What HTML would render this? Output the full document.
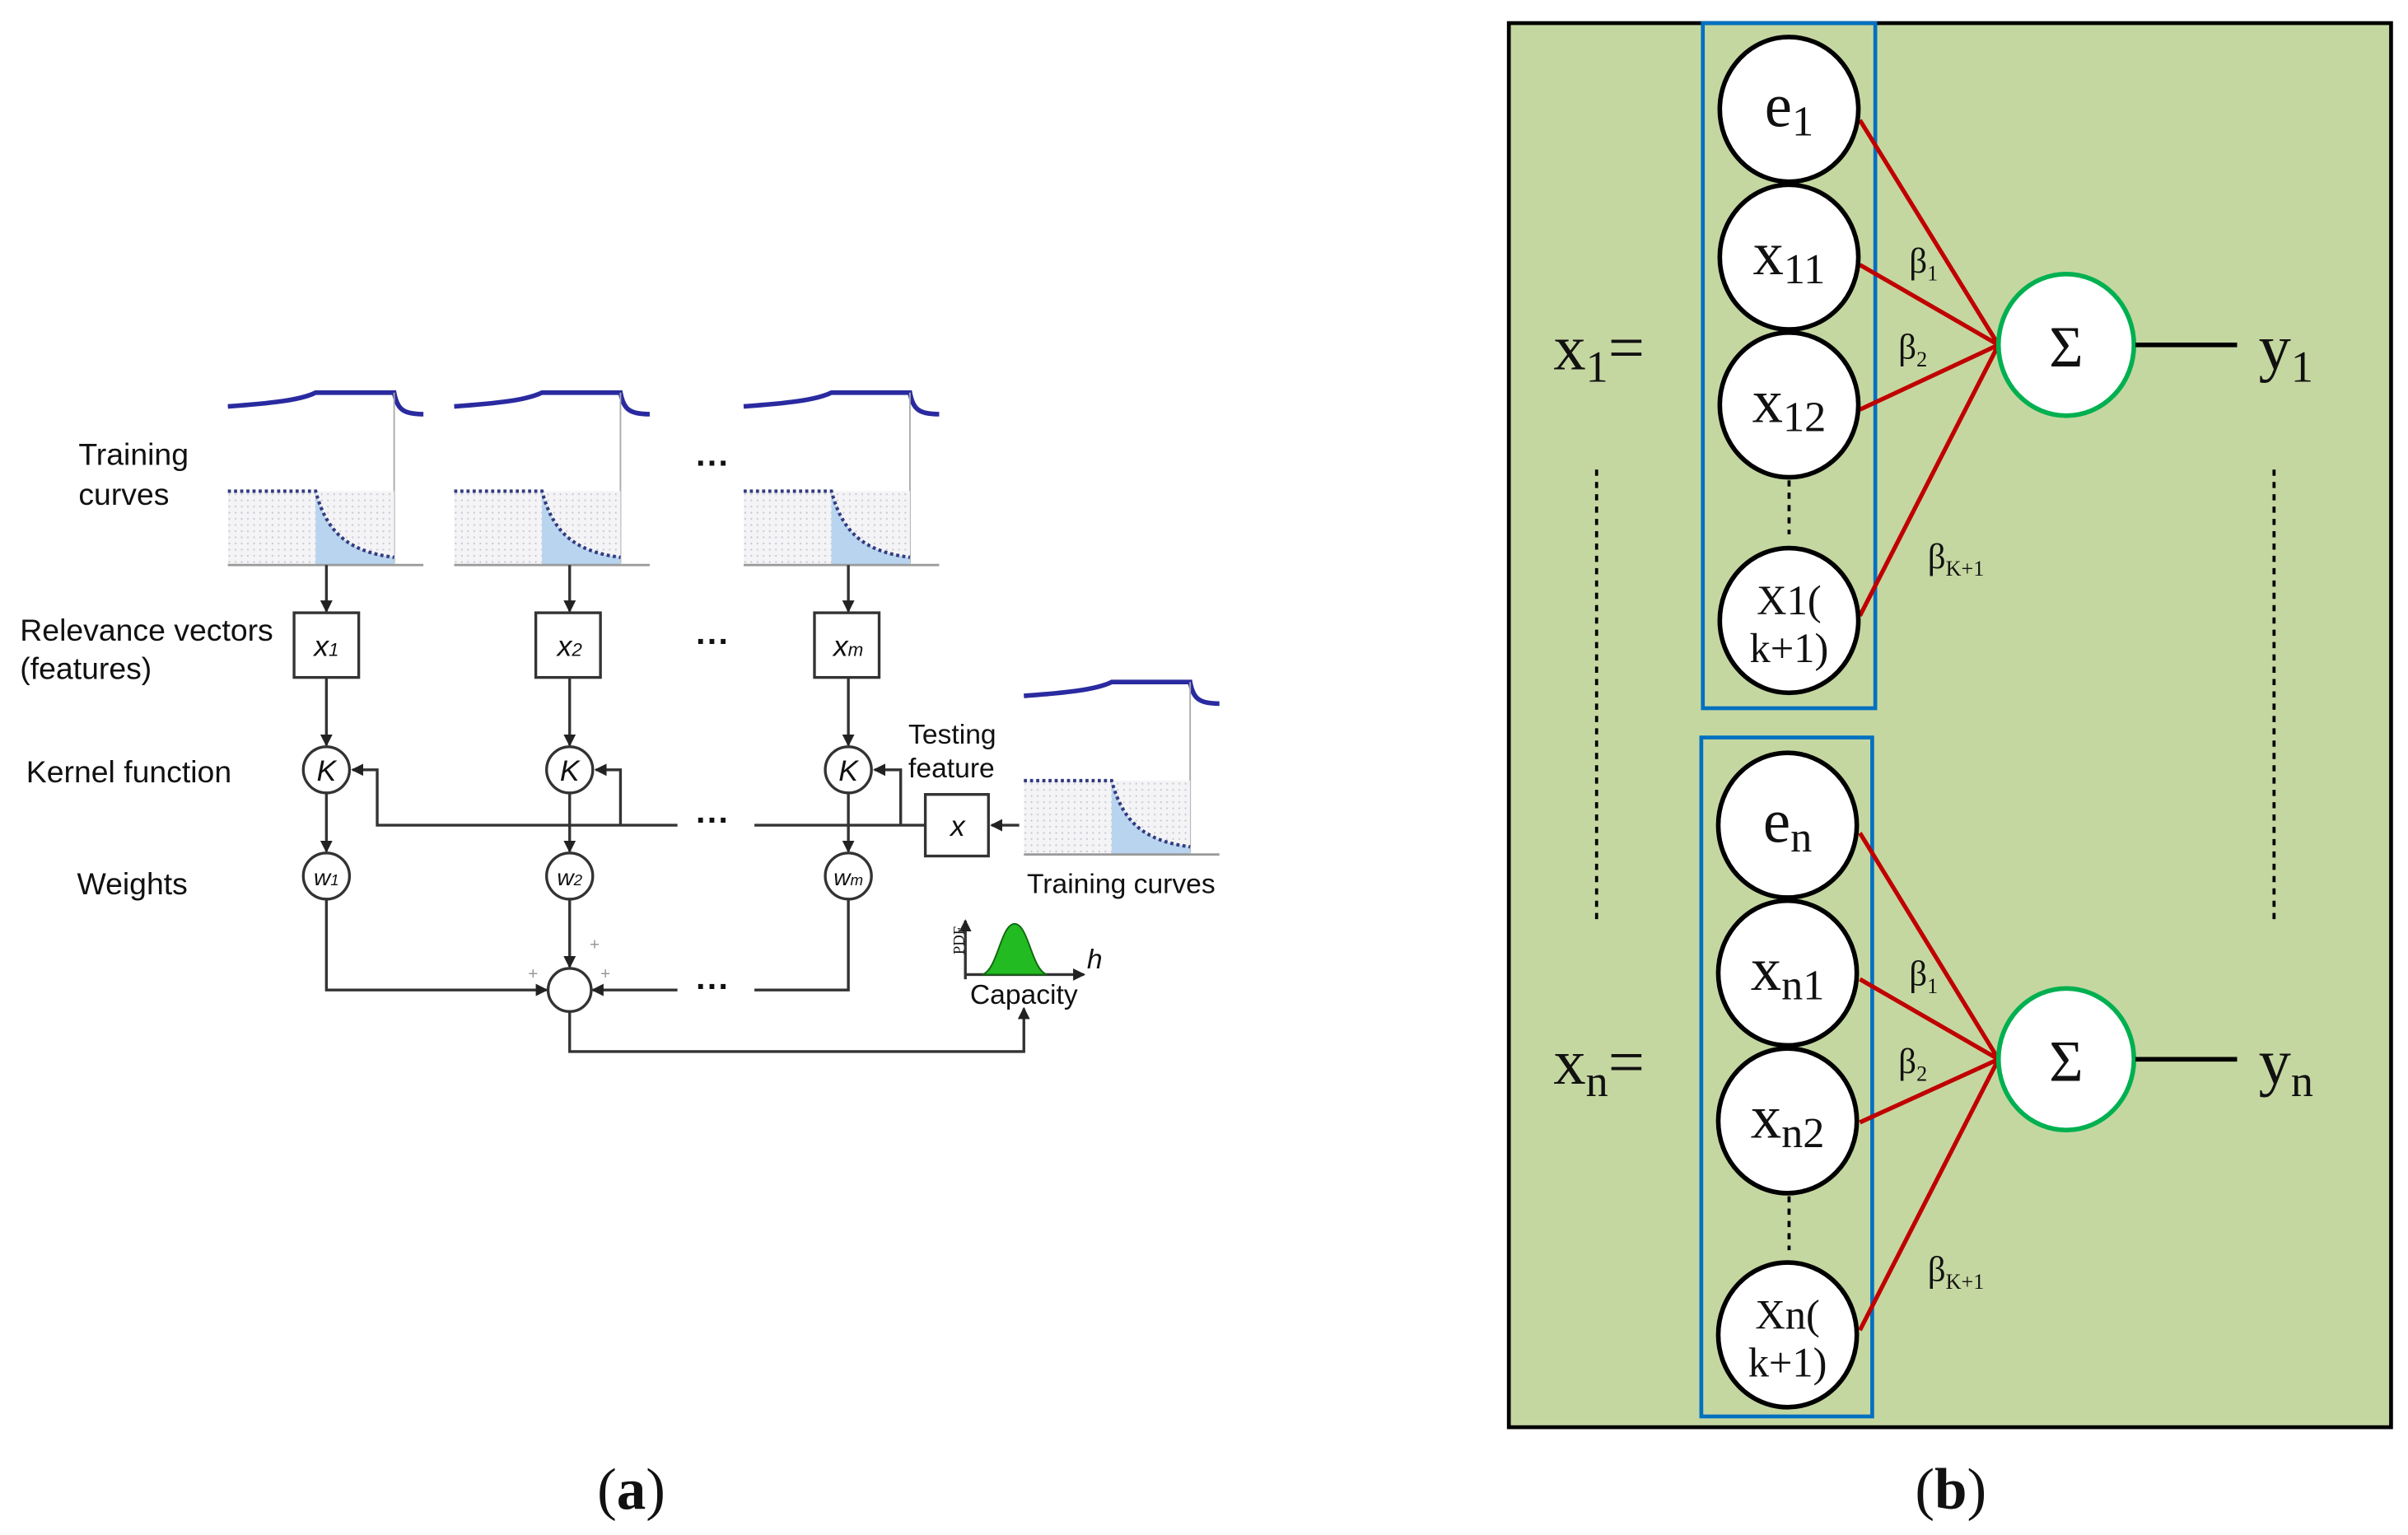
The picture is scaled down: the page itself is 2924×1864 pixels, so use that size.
<!DOCTYPE html>
<html><head><meta charset="utf-8"><style>html,body{margin:0;padding:0;background:#fff}svg{display:block}</style></head>
<body>
<svg width="2924" height="1864" viewBox="0 0 1564 997" xmlns="http://www.w3.org/2000/svg">
<defs>
<marker id="ar" markerWidth="8" markerHeight="8" refX="7" refY="4" orient="auto" markerUnits="userSpaceOnUse"><path d="M0,0 L8,4 L0,8 z" fill="#222"/></marker>
<pattern id="dots" width="4" height="4" patternUnits="userSpaceOnUse"><rect width="4" height="4" fill="#f4f4f6"/><circle cx="1" cy="1" r="0.6" fill="#c8c8d0"/></pattern>
</defs>
<g font-family="Liberation Sans, sans-serif" fill="#111">
<g id="c1">
<path d="M148,264 C175,262 195,260 205,255 L256,255 C258,266 262,269 275,269" fill="none" stroke="#2a2aa0" stroke-width="3"/>
<line x1="256" y1="255" x2="256" y2="366" stroke="#aaa" stroke-width="1"/>
<rect x="148" y="319" width="108" height="48" fill="url(#dots)"/>
<path d="M205,319 C212,345 225,358 256,362 L256,367 L205,367 z" fill="#b8d4ee"/>
<path d="M148,319 L205,319 C212,345 225,358 256,362" fill="none" stroke="#333a80" stroke-width="2.2" stroke-dasharray="2,2"/>
<line x1="148" y1="367" x2="275" y2="367" stroke="#999" stroke-width="1.5"/>
</g>
<use href="#c1" transform="translate(147,0)"/>
<use href="#c1" transform="translate(335,0)"/>
<use href="#c1" transform="translate(517,188)"/>
<text x="51" y="302" font-size="20">Training</text>
<text x="51" y="328" font-size="20">curves</text>
<text x="13" y="416" font-size="20">Relevance vectors</text>
<text x="13" y="441" font-size="20">(features)</text>
<text x="17" y="508" font-size="20">Kernel function</text>
<text x="50" y="581" font-size="20">Weights</text>
<text x="590" y="483" font-size="18">Testing</text>
<text x="590" y="505" font-size="18">feature</text>
<text x="667" y="580" font-size="18">Training curves</text>
<g font-size="22" font-weight="bold"><text x="452" y="308">···</text><text x="452" y="424">···</text><text x="452" y="540">···</text><text x="452" y="648">···</text></g>
<g stroke="#333" stroke-width="1.8" fill="none">
<line x1="212" y1="367" x2="212" y2="397" marker-end="url(#ar)"/>
<line x1="370" y1="367" x2="370" y2="397" marker-end="url(#ar)"/>
<line x1="551" y1="367" x2="551" y2="397" marker-end="url(#ar)"/>
<rect x="191" y="398" width="42" height="42" fill="#fff"/>
<rect x="348" y="398" width="42" height="42" fill="#fff"/>
<rect x="529" y="398" width="42" height="42" fill="#fff"/>
<line x1="212" y1="440" x2="212" y2="484" marker-end="url(#ar)"/>
<line x1="370" y1="440" x2="370" y2="484" marker-end="url(#ar)"/>
<line x1="551" y1="440" x2="551" y2="484" marker-end="url(#ar)"/>
<circle cx="212" cy="500" r="15" fill="#fff"/><circle cx="370" cy="500" r="15" fill="#fff"/><circle cx="551" cy="500" r="15" fill="#fff"/>
<path d="M440,536 L245,536 L245,500 L229,500" marker-end="url(#ar)"/>
<path d="M403,536 L403,500 L387,500" marker-end="url(#ar)"/>
<path d="M585,536 L585,500 L568,500" marker-end="url(#ar)"/>
<line x1="490" y1="536" x2="601" y2="536"/>
<rect x="601" y="516" width="41" height="40" fill="#fff"/>
<line x1="662" y1="536" x2="644" y2="536" marker-end="url(#ar)"/>
<line x1="212" y1="515" x2="212" y2="553" marker-end="url(#ar)"/>
<line x1="370" y1="515" x2="370" y2="553" marker-end="url(#ar)"/>
<line x1="551" y1="515" x2="551" y2="553" marker-end="url(#ar)"/>
<circle cx="212" cy="569" r="15" fill="#fff"/><circle cx="370" cy="569" r="15" fill="#fff"/><circle cx="551" cy="569" r="15" fill="#fff"/>
<path d="M212,584 L212,643 L355,643" marker-end="url(#ar)"/>
<line x1="370" y1="584" x2="370" y2="628" marker-end="url(#ar)"/>
<path d="M551,584 L551,643 L490,643"/>
<line x1="440" y1="643" x2="385" y2="643" marker-end="url(#ar)"/>
<circle cx="370" cy="643" r="14" fill="#fff"/>
<path d="M370,657 L370,683 L665,683 L665,655" marker-end="url(#ar)"/>
<path d="M627,636 L627,598" marker-end="url(#ar)"/>
<path d="M627,633 L704,633" marker-end="url(#ar)"/>
</g>
<path d="M638,633 C648,630 650,600 659,600 C668,600 670,630 680,633 z" fill="#22bb22" stroke="#116611"/>
<g font-size="11" fill="#999"><text x="383" y="617">+</text><text x="343" y="636">+</text><text x="390" y="636">+</text></g>
<text x="607" y="621" font-size="10" font-family="Liberation Serif, serif" transform="rotate(-90 616 611)">PDF</text>
<text x="706" y="629" font-size="18" font-style="italic">h</text>
<text x="630" y="652" font-size="18">Capacity</text>
<g font-size="19" font-style="italic" text-anchor="middle">
<text x="212" y="426">x<tspan font-size="12">1</tspan></text>
<text x="370" y="426">x<tspan font-size="12">2</tspan></text>
<text x="551" y="426">x<tspan font-size="12">m</tspan></text>
<text x="212" y="507">K</text><text x="370" y="507">K</text><text x="551" y="507">K</text>
<text x="622" y="543">x</text>
<text x="212" y="575" font-size="15">w<tspan font-size="10">1</tspan></text>
<text x="370" y="575" font-size="15">w<tspan font-size="10">2</tspan></text>
<text x="551" y="575" font-size="15">w<tspan font-size="10">m</tspan></text>
</g>
</g>
<g font-family="Liberation Serif, serif" fill="#111">
<rect x="980" y="15" width="573" height="912" fill="#c5d7a1" stroke="#000" stroke-width="2.5"/>
<rect x="1106" y="15" width="112" height="445" fill="none" stroke="#0070c0" stroke-width="2.5"/>
<rect x="1105" y="479" width="111" height="441" fill="none" stroke="#0070c0" stroke-width="2.5"/>
<g stroke="#000" stroke-width="2" stroke-dasharray="4,4"><line x1="1037" y1="305" x2="1037" y2="597"/><line x1="1477" y1="305" x2="1477" y2="597"/><line x1="1162" y1="312" x2="1162" y2="347"/><line x1="1162" y1="777" x2="1162" y2="812"/></g>
<g stroke="#c00000" stroke-width="2.8">
<line x1="1208" y1="78" x2="1298" y2="224"/><line x1="1208" y1="172" x2="1298" y2="224"/><line x1="1208" y1="266" x2="1298" y2="224"/><line x1="1208" y1="400" x2="1298" y2="224"/>
<line x1="1208" y1="541" x2="1298" y2="688"/><line x1="1208" y1="636" x2="1298" y2="688"/><line x1="1208" y1="729" x2="1298" y2="688"/><line x1="1208" y1="864" x2="1298" y2="688"/>
</g>
<g fill="#fff" stroke="#000" stroke-width="3">
<ellipse cx="1162" cy="71" rx="45" ry="47"/><ellipse cx="1162" cy="167" rx="45" ry="47"/><ellipse cx="1162" cy="263" rx="45" ry="47"/><ellipse cx="1162" cy="403" rx="45" ry="47"/>
<ellipse cx="1161" cy="536" rx="45" ry="47"/><ellipse cx="1161" cy="632" rx="45" ry="47"/><ellipse cx="1161" cy="728" rx="45" ry="47"/><ellipse cx="1161" cy="867" rx="45" ry="47"/>
</g>
<g fill="#fff" stroke="#00b050" stroke-width="3"><ellipse cx="1342" cy="224" rx="44" ry="46"/><ellipse cx="1342" cy="688" rx="44" ry="46"/></g>
<g stroke="#000" stroke-width="3"><line x1="1387" y1="224" x2="1453" y2="224"/><line x1="1387" y1="688" x2="1453" y2="688"/></g>
<g font-size="40" text-anchor="middle">
<text x="1162" y="82">e<tspan font-size="28" dy="6">1</tspan></text>
<text x="1162" y="178">x<tspan font-size="28" dy="6">11</tspan></text>
<text x="1162" y="274">x<tspan font-size="28" dy="6">12</tspan></text>
<text x="1161" y="547">e<tspan font-size="28" dy="6">n</tspan></text>
<text x="1161" y="643">x<tspan font-size="28" dy="6">n1</tspan></text>
<text x="1161" y="739">x<tspan font-size="28" dy="6">n2</tspan></text>
<text x="1342" y="238" font-size="38">Σ</text>
<text x="1342" y="702" font-size="38">Σ</text>
<text x="1162" y="399" font-size="27">X1(</text><text x="1162" y="430" font-size="27">k+1)</text>
<text x="1161" y="863" font-size="27">Xn(</text><text x="1161" y="894" font-size="27">k+1)</text>
</g>
<g font-size="42">
<text x="1009" y="240">x<tspan font-size="29" dy="8">1</tspan><tspan dy="-8">=</tspan></text>
<text x="1009" y="704">x<tspan font-size="29" dy="8">n</tspan><tspan dy="-8">=</tspan></text>
<text x="1467" y="240">y<tspan font-size="29" dy="8">1</tspan></text>
<text x="1467" y="704">y<tspan font-size="29" dy="8">n</tspan></text>
</g>
<g font-size="23">
<text x="1240" y="177">β<tspan font-size="14" dy="5">1</tspan></text>
<text x="1233" y="233">β<tspan font-size="14" dy="5">2</tspan></text>
<text x="1252" y="369">β<tspan font-size="14" dy="5">K+1</tspan></text>
<text x="1240" y="640">β<tspan font-size="14" dy="5">1</tspan></text>
<text x="1233" y="697">β<tspan font-size="14" dy="5">2</tspan></text>
<text x="1252" y="832">β<tspan font-size="14" dy="5">K+1</tspan></text>
</g>
<g font-size="38" text-anchor="middle">
<text x="410" y="980">(<tspan font-weight="bold">a</tspan>)</text>
<text x="1267" y="980">(<tspan font-weight="bold">b</tspan>)</text>
</g>
</g>
</svg>
</body></html>
